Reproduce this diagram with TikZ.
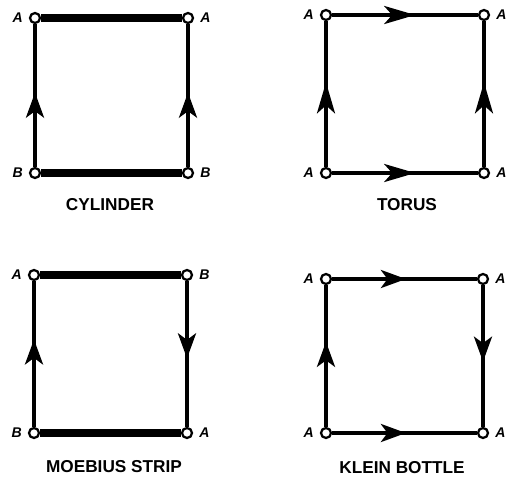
\documentclass[tikz,border=0pt]{standalone}
\usepackage{fontspec}
\setmainfont{Liberation Sans}
\usetikzlibrary{arrows.meta,decorations.markings}

\begin{document}
\begin{tikzpicture}[x=0.02cm,y=-0.02cm,
    corner/.style={circle,draw,fill=white,line width=0.045cm,inner sep=0pt,
                   minimum size=0.2cm,label distance=0.06cm},
    lbl/.style={font=\fontsize{8}{9}\selectfont\bfseries\itshape},
    title/.style={font=\fontsize{9.8}{11}\selectfont\bfseries},
    free/.style={line width=0.15cm},
    glued/.style={line width=0.075cm},
    flow/.style={glued,postaction={decorate},decoration={markings,
        mark=at position #1 with {\arrow{Stealth[length=0.5cm,width=0.36cm,inset=0.13cm]}}}},
    longflow/.style={glued,postaction={decorate},decoration={markings,
        mark=at position #1 with {\arrow{Stealth[length=0.62cm,width=0.36cm,inset=0.16cm]}}}}
  ]
    \useasboundingbox (0,0) rectangle (512,478);

    % cylinder
    \node[corner,label={[lbl]left:A}] (cyTL) at (35,18) {};
    \node[corner,label={[lbl]right:A}] (cyTR) at (188,18) {};
    \node[corner,label={[lbl]left:B}] (cyBL) at (35,173) {};
    \node[corner,label={[lbl]right:B}] (cyBR) at (188,173) {};
    \draw[free] (cyTL)--(cyTR);
    \draw[free] (cyBL)--(cyBR);
    \draw[flow=0.52] (cyBL)--(cyTL);
    \draw[flow=0.52] (cyBR)--(cyTR);
    \node[title] (cyT) at (110,205) {CYLINDER};

    % torus
    \node[corner,label={[lbl]left:A}] (toTL) at (326,15) {};
    \node[corner,label={[lbl]right:A}] (toTR) at (484,15) {};
    \node[corner,label={[lbl]left:A}] (toBL) at (326,173) {};
    \node[corner,label={[lbl]right:A}] (toBR) at (484,173) {};
    \draw[longflow=0.57] (toTL)--(toTR);
    \draw[longflow=0.57] (toBL)--(toBR);
    \draw[longflow=0.58] (toBL)--(toTL);
    \draw[longflow=0.58] (toBR)--(toTR);
    \node[title] (toT) at (407,205) {TORUS};

    % moebius strip
    \node[corner,label={[lbl]left:A}] (moTL) at (34,275) {};
    \node[corner,label={[lbl]right:B}] (moTR) at (187,275) {};
    \node[corner,label={[lbl]left:B}] (moBL) at (34,433) {};
    \node[corner,label={[lbl]right:A}] (moBR) at (187,433) {};
    \draw[free] (moTL)--(moTR);
    \draw[free] (moBL)--(moBR);
    \draw[flow=0.6] (moBL)--(moTL);
    \draw[flow=0.53] (moTR)--(moBR);
    \node[title] (moT) at (114,467) {MOEBIUS STRIP};

    % klein bottle
    \node[corner,label={[lbl]left:A}] (klTL) at (326,279) {};
    \node[corner,label={[lbl]right:A}] (klTR) at (483,279) {};
    \node[corner,label={[lbl]left:A}] (klBL) at (326,433) {};
    \node[corner,label={[lbl]right:A}] (klBR) at (483,433) {};
    \draw[flow=0.51] (klTL)--(klTR);
    \draw[flow=0.51] (klBL)--(klBR);
    \draw[flow=0.6] (klBL)--(klTL);
    \draw[flow=0.54] (klTR)--(klBR);
    \node[title] (klT) at (402,468) {KLEIN BOTTLE};
  \end{tikzpicture}
\end{document}
